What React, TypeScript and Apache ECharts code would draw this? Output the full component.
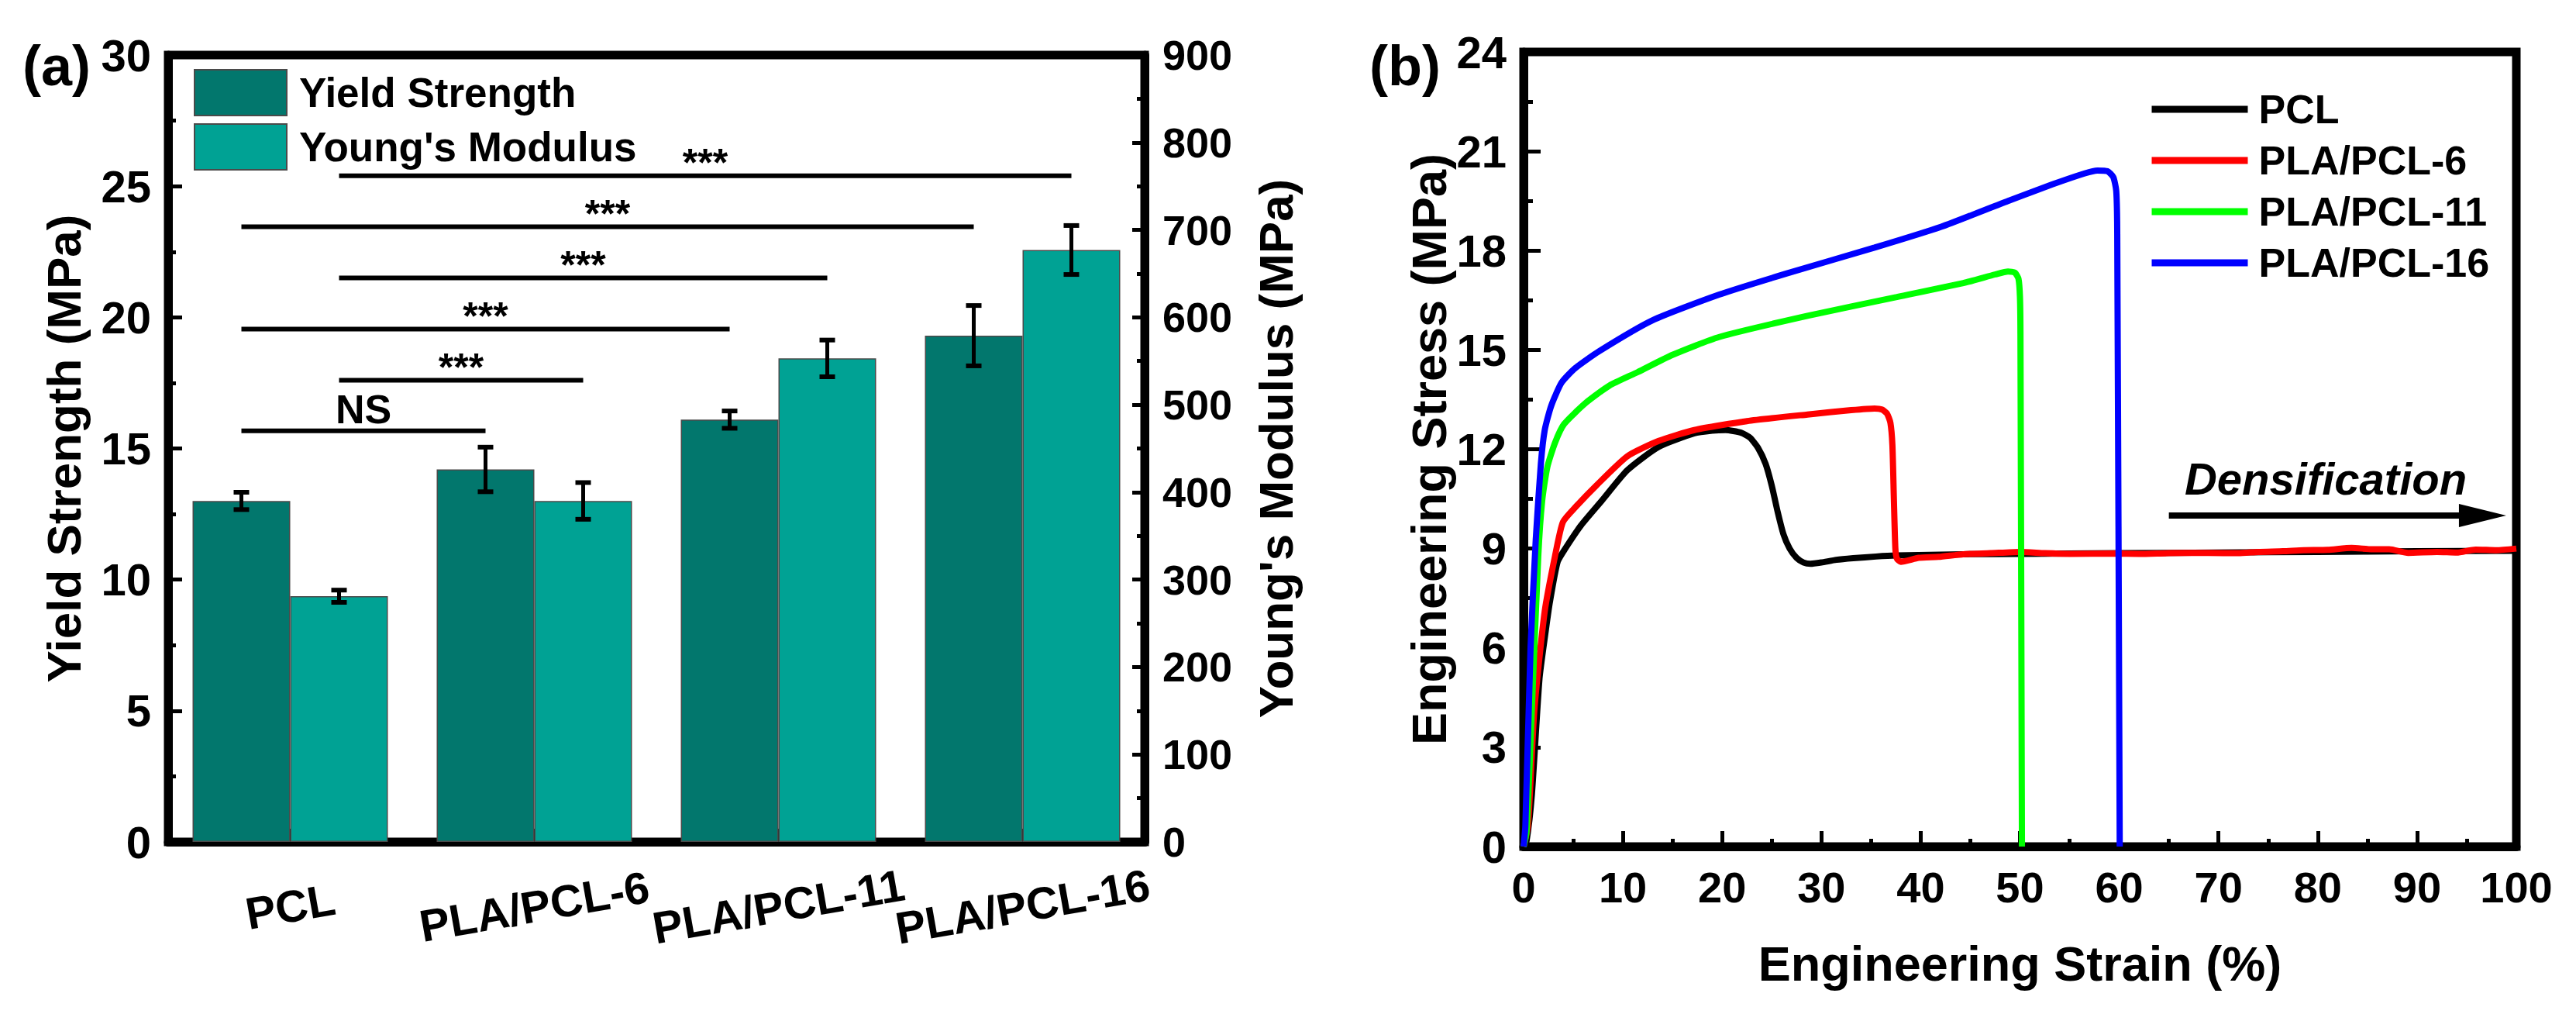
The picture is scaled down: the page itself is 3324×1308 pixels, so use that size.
import React, { useEffect, useRef } from "react";
import * as echarts from "echarts";

const FONT = "'Liberation Sans', Arial, Helvetica, sans-serif";

// ---- Panel (a) data ----
const categories = ["PCL", "PLA/PCL-6", "PLA/PCL-11", "PLA/PCL-16"];
const yieldStrength = [13.0, 14.2, 16.1, 19.3];
const yieldErr = [0.33, 0.85, 0.33, 1.15];
const youngsModulus = [281, 390, 553, 677];
const youngsErr = [7, 21, 21, 28];
const yieldTicks = { min: 0, max: 30, interval: 5 };
const modulusTicks = { min: 0, max: 900, interval: 100 };

// significance brackets: from category, to category, which bar (-1 yield, +1 modulus), level (yield units), label
const sigFrom = [0, 0, 0, 0, 0, 0];
const sigTo = [1, 1, 2, 2, 3, 3];
const sigSide = [-1, 1, -1, 1, -1, 1];
const sigLevel = [15.67, 17.6, 19.55, 21.5, 23.45, 25.4];
const sigLabel = ["NS", "***", "***", "***", "***", "***"];

// ---- Panel (b) data: [strain %, stress MPa] ----
const pclCurve = [
  [0, 0], [0.3, 0.17], [0.83, 1.56], [1.6, 5.07], [2.2, 6.45], [2.65, 7.39], [3.43, 8.6], [4.2, 9.0],
  [5.78, 9.7], [7.86, 10.44], [10.46, 11.37], [13.6, 12.07], [17.2, 12.48], [19.0, 12.56], [20.35, 12.58],
  [21.9, 12.5], [22.8, 12.35], [23.6, 12.05], [24.38, 11.56], [25.0, 10.9], [25.6, 10.1], [26.18, 9.43],
  [26.8, 9.0], [27.5, 8.72], [28.2, 8.58], [28.9, 8.54], [30.0, 8.58], [31.5, 8.66], [33.2, 8.71], [35.5, 8.76],
  [37.5, 8.79], [44.3, 8.83], [50, 8.84], [60, 8.86], [70, 8.88], [80, 8.9], [90, 8.92], [100, 8.93],
];
const pla6Curve = [
  [0, 0], [0.44, 0.63], [1.09, 4.15], [2.13, 7.11], [3.17, 8.78], [3.96, 9.8], [5.25, 10.26], [7.34, 10.91],
  [10.46, 11.79], [13.6, 12.25], [17.2, 12.58], [22.5, 12.85], [28.6, 13.05], [33.0, 13.18], [35.35, 13.23],
  [36.1, 13.2], [36.6, 13.08], [36.95, 12.8], [37.15, 12.13], [37.3, 10.5], [37.45, 9.0], [37.6, 8.7],
  [38.0, 8.6], [39.8, 8.72], [41.8, 8.75], [44.3, 8.83], [47, 8.86], [50, 8.9], [52.5, 8.86], [55, 8.84],
  [59.5, 8.85], [62, 8.84], [65, 8.86], [69, 8.87], [72, 8.86], [74, 8.9], [76.5, 8.92], [78.6, 8.95],
  [81, 8.96], [83.4, 9.02], [85.5, 8.98], [87.2, 8.98], [89.1, 8.87], [92, 8.9], [94, 8.88], [95.9, 8.97],
  [98, 8.95], [100, 9.0],
];
const pla11Curve = [
  [0, 0], [0.3, 0.45], [0.83, 4.15], [1.48, 8.78], [1.87, 10.44], [2.39, 11.46], [3.17, 12.2], [4.08, 12.76],
  [6.3, 13.41], [8.64, 13.92], [11.5, 14.33], [15.0, 14.85], [19.7, 15.39], [28.6, 16.03], [37.6, 16.6],
  [44.3, 17.02], [47.5, 17.28], [48.8, 17.37], [49.5, 17.33], [49.85, 17.15], [50.0, 16.6], [50.05, 15.5],
  [50.2, 0],
];
const pla16Curve = [
  [0, 0], [0.18, 0.63], [0.7, 6.0], [1.22, 9.24], [1.74, 11.56], [2.13, 12.58], [2.78, 13.31], [3.82, 14.01],
  [5.2, 14.45], [7.6, 14.96], [12.96, 15.89], [19.7, 16.67], [26.4, 17.3], [35.35, 18.09], [42.07, 18.72],
  [48.8, 19.5], [53.27, 20.0], [56.5, 20.33], [57.8, 20.42], [58.8, 20.4], [59.4, 20.22], [59.7, 19.8],
  [59.8, 18.5], [60.05, 0],
];
const strainTicks = { min: 0, max: 100, interval: 10 };
const stressTicks = { min: 0, max: 24, interval: 3 };
const arrowStart = [65, 10];
const arrowEnd = [96.6, 10];

const DARK = "#02776D";
const LIGHT = "#00A294";

const tickLabel = (size: number) => ({
  fontSize: size,
  fontWeight: "bold" as const,
  fontFamily: FONT,
  color: "#000",
});

const axisBase = {
  axisLine: { show: true, onZero: false, lineStyle: { color: "#000", width: 11 } },
  axisTick: { show: true, inside: true, length: 18, lineStyle: { color: "#000", width: 5 } },
  minorTick: { show: true, splitNumber: 2, length: 10, lineStyle: { color: "#000", width: 5 } },
  splitLine: { show: false },
  minorSplitLine: { show: false },
};

function errorRender(side: number) {
  return (params: any, api: any) => {
    const i = api.value(0);
    const lo = api.value(1);
    const hi = api.value(2);
    const band = api.size([1, 0])[0];
    const top = api.coord([i, hi]);
    const bot = api.coord([i, lo]);
    const x = top[0] + side * band * 0.2;
    const cap = 10;
    return {
      type: "group",
      children: [
        { type: "line", shape: { x1: x, y1: top[1], x2: x, y2: bot[1] }, style: { stroke: "#000", lineWidth: 5 } },
        { type: "line", shape: { x1: x - cap, y1: top[1], x2: x + cap, y2: top[1] }, style: { stroke: "#000", lineWidth: 6 } },
        { type: "line", shape: { x1: x - cap, y1: bot[1], x2: x + cap, y2: bot[1] }, style: { stroke: "#000", lineWidth: 6 } },
      ],
    };
  };
}

function sigRender(params: any, api: any) {
  const k = params.dataIndex;
  const from = api.value(0);
  const to = api.value(1);
  const lvl = api.value(2);
  const side = api.value(3);
  const band = api.size([1, 0])[0];
  const a = api.coord([from, lvl]);
  const b = api.coord([to, lvl]);
  const x1 = a[0] + side * band * 0.2;
  const x2 = b[0] + side * band * 0.2;
  const label = sigLabel[k];
  const isNS = label === "NS";
  return {
    type: "group",
    children: [
      { type: "line", shape: { x1, y1: a[1], x2, y2: a[1] }, style: { stroke: "#000", lineWidth: 6 } },
      {
        type: "text",
        x: (x1 + x2) / 2,
        y: a[1] - (isNS ? 28 : 17),
        style: {
          text: label,
          fontSize: isNS ? 52 : 50,
          fontWeight: "bold",
          fontFamily: FONT,
          fill: "#000",
          align: "center",
          verticalAlign: "middle",
        },
      },
    ],
  };
}

const curveSeries = (name: string, data: number[][], color: string, extra: any = {}) => ({
  name,
  type: "line",
  xAxisIndex: 1,
  yAxisIndex: 2,
  data,
  symbol: "none",
  showSymbol: false,
  smooth: 0.2,
  color,
  lineStyle: { width: 8, color },
  emphasis: { disabled: true },
  ...extra,
});

export default function App() {
  const ref = useRef<HTMLDivElement>(null);

  useEffect(() => {
    if (!ref.current) return;
    const chart = echarts.init(ref.current, undefined, { renderer: "svg" });

    const option: any = {
      animation: false,
      backgroundColor: "#fff",
      textStyle: { fontFamily: FONT },
      grid: [
        { left: 217, top: 71, width: 1260, height: 1015, show: true, borderColor: "#000", borderWidth: 11, containLabel: false, outerBoundsMode: "none" },
        { left: 1966, top: 67, width: 1281, height: 1025, show: true, borderColor: "#000", borderWidth: 11, containLabel: false, outerBoundsMode: "none" },
      ],
      xAxis: [
        {
          type: "category",
          gridIndex: 0,
          data: categories,
          ...axisBase,
          axisTick: { show: true, inside: true, alignWithLabel: true, length: 17, lineStyle: { color: "#000", width: 5 } },
          minorTick: { show: false },
          axisLabel: { ...tickLabel(58), interval: 0, rotate: 10, align: "center", verticalAlign: "middle", margin: 83 },
        },
        {
          type: "value",
          gridIndex: 1,
          ...strainTicks,
          ...axisBase,
          axisTick: { show: true, inside: true, length: 20, lineStyle: { color: "#000", width: 5 } },
          axisLabel: { ...tickLabel(56), margin: 24 },
          name: "Engineering Strain (%)",
          nameLocation: "middle",
          nameGap: 119,
          nameTextStyle: { fontSize: 63, fontWeight: "bold", fontFamily: FONT, color: "#000" },
        },
      ],
      yAxis: [
        {
          type: "value",
          gridIndex: 0,
          position: "left",
          ...yieldTicks,
          ...axisBase,
          axisLabel: { ...tickLabel(58), margin: 22 },
          name: "Yield Strength (MPa)",
          nameLocation: "middle",
          nameGap: 104,
          nameTextStyle: { fontSize: 62, fontWeight: "bold", fontFamily: FONT, color: "#000" },
        },
        {
          type: "value",
          gridIndex: 0,
          position: "right",
          ...modulusTicks,
          ...axisBase,
          axisTick: { show: true, inside: true, length: 16, lineStyle: { color: "#000", width: 5 } },
          minorTick: { show: true, splitNumber: 2, length: 10, lineStyle: { color: "#000", width: 5 } },
          axisLabel: { ...tickLabel(54), margin: 23 },
          name: "Young's Modulus (MPa)",
          nameLocation: "middle",
          nameGap: 138,
          nameTextStyle: { fontSize: 62, fontWeight: "bold", fontFamily: FONT, color: "#000" },
        },
        {
          type: "value",
          gridIndex: 1,
          position: "left",
          ...stressTicks,
          ...axisBase,
          axisTick: { show: true, inside: true, length: 22, lineStyle: { color: "#000", width: 5 } },
          minorTick: { show: true, splitNumber: 2, length: 12, lineStyle: { color: "#000", width: 5 } },
          axisLabel: { ...tickLabel(58), margin: 22 },
          name: "Engineering Stress (MPa)",
          nameLocation: "middle",
          nameGap: 90,
          nameTextStyle: { fontSize: 63, fontWeight: "bold", fontFamily: FONT, color: "#000" },
        },
      ],
      legend: [
        {
          data: ["Yield Strength", "Young's Modulus"],
          orient: "vertical",
          left: 250,
          top: 89,
          itemWidth: 119,
          itemHeight: 59,
          itemGap: 9,
          icon: "rect",
          padding: 0,
          selectedMode: false,
          textStyle: { fontSize: 53, fontWeight: "bold", fontFamily: FONT, color: "#000", padding: [0, 0, 0, 11] },
        },
        {
          data: ["PCL", "PLA/PCL-6", "PLA/PCL-11", "PLA/PCL-16"],
          orient: "vertical",
          left: 2772,
          top: 115,
          itemWidth: 124,
          itemHeight: 52,
          itemGap: 14,
          padding: 0,
          selectedMode: false,
          itemStyle: { opacity: 0 },
          lineStyle: { width: 9 },
          textStyle: { fontSize: 52, fontWeight: "bold", fontFamily: FONT, color: "#000", padding: [0, 0, 0, 9] },
        },
      ],
      series: [
        {
          name: "Yield Strength",
          type: "bar",
          xAxisIndex: 0,
          yAxisIndex: 0,
          data: yieldStrength,
          barWidth: "40%",
          barGap: "0%",
          itemStyle: { color: DARK, borderColor: "#4a4a4a", borderWidth: 1.5 },
          emphasis: { disabled: true },
          z: 2,
        },
        {
          name: "Young's Modulus",
          type: "bar",
          xAxisIndex: 0,
          yAxisIndex: 1,
          data: youngsModulus,
          barWidth: "40%",
          barGap: "0%",
          itemStyle: { color: LIGHT, borderColor: "#4a4a4a", borderWidth: 1.5 },
          emphasis: { disabled: true },
          z: 2,
        },
        {
          name: "yieldErr",
          type: "custom",
          xAxisIndex: 0,
          yAxisIndex: 0,
          renderItem: errorRender(-1),
          data: categories.map((_, i) => [i, yieldStrength[i] - yieldErr[i], yieldStrength[i] + yieldErr[i]]),
          encode: { x: 0, y: [1, 2] },
          z: 5,
          silent: true,
        },
        {
          name: "modErr",
          type: "custom",
          xAxisIndex: 0,
          yAxisIndex: 1,
          renderItem: errorRender(1),
          data: categories.map((_, i) => [i, youngsModulus[i] - youngsErr[i], youngsModulus[i] + youngsErr[i]]),
          encode: { x: 0, y: [1, 2] },
          z: 5,
          silent: true,
        },
        {
          name: "sig",
          type: "custom",
          xAxisIndex: 0,
          yAxisIndex: 0,
          renderItem: sigRender,
          data: sigLevel.map((lvl, k) => [sigFrom[k], sigTo[k], lvl, sigSide[k]]),
          encode: { x: 0, y: 2 },
          z: 5,
          silent: true,
        },
        curveSeries("PCL", pclCurve, "#000000", {
          markLine: {
            silent: true,
            symbol: ["none", "triangle"],
            symbolSize: [30, 61],
            lineStyle: { color: "#000", width: 8, type: "solid" },
            label: {
              show: true,
              formatter: "Densification",
              position: "insideMiddleTop",
              distance: 18,
              fontSize: 58,
              fontStyle: "italic",
              fontWeight: "bold",
              fontFamily: FONT,
              color: "#000",
            },
            emphasis: { disabled: true },
            data: [[{ coord: arrowStart }, { coord: arrowEnd }]],
          },
        }),
        curveSeries("PLA/PCL-6", pla6Curve, "#FF0000"),
        curveSeries("PLA/PCL-11", pla11Curve, "#00FF00"),
        curveSeries("PLA/PCL-16", pla16Curve, "#0000FF"),
      ],
      graphic: [
        {
          type: "text",
          x: 73,
          y: 85,
          style: { text: "(a)", fontSize: 72, fontWeight: "bold", fontFamily: FONT, fill: "#000", align: "center", verticalAlign: "middle" },
        },
        {
          type: "text",
          x: 1813,
          y: 85,
          style: { text: "(b)", fontSize: 72, fontWeight: "bold", fontFamily: FONT, fill: "#000", align: "center", verticalAlign: "middle" },
        },
      ],
    };

    chart.setOption(option);
    return () => chart.dispose();
  }, []);

  return (
    <div
      ref={ref}
      style={{ position: "fixed", left: 0, top: 0, width: 3324, height: 1308, background: "#fff" }}
    />
  );
}
